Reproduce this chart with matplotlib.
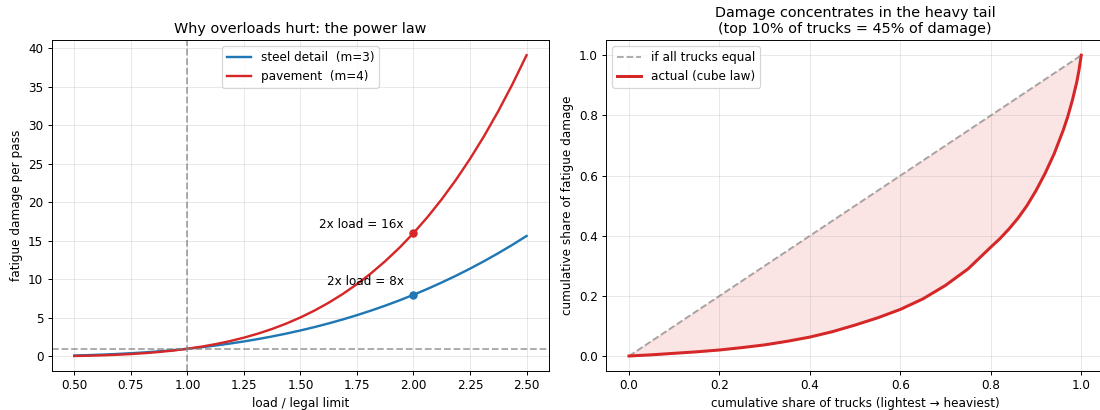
import numpy as np
import matplotlib
matplotlib.use("Agg")
from matplotlib import pyplot as plt

# load ratio vs damage per pass
load_ratio = [0.5, 0.5625, 0.625, 0.6875, 0.75, 0.8125, 0.875, 0.9375, 1.0,
              1.0625, 1.125, 1.1875, 1.25, 1.3125, 1.375, 1.4375, 1.5,
              1.5625, 1.625, 1.6875, 1.75, 1.8125, 1.875, 1.9375, 2.0,
              2.0625, 2.125, 2.1875, 2.25, 2.3125, 2.375, 2.4375, 2.5]
steel_damage = [0.125, 0.178, 0.244, 0.325, 0.422, 0.536, 0.670, 0.824, 1.0,
                1.199, 1.424, 1.675, 1.953, 2.261, 2.600, 2.970, 3.375,
                3.815, 4.291, 4.805, 5.359, 5.954, 6.592, 7.273, 8.0,
                8.774, 9.596, 10.468, 11.391, 12.366, 13.396, 14.482, 15.625]
pavement_damage = [0.0625, 0.100, 0.153, 0.223, 0.316, 0.436, 0.586, 0.772, 1.0,
                   1.274, 1.602, 1.989, 2.441, 2.967, 3.574, 4.270, 5.063,
                   5.960, 6.973, 8.109, 9.379, 10.792, 12.360, 14.091, 16.0,
                   18.096, 20.392, 22.899, 25.629, 28.596, 31.815, 35.300, 39.063]
marked_load = 2.0
marked_steel = 8.0
marked_pavement = 16.0

# cumulative share curve (right panel)
truck_share = [0, 0.05, 0.1, 0.15, 0.2, 0.25, 0.3, 0.35, 0.4, 0.45, 0.5, 0.55,
               0.6, 0.65, 0.7, 0.75, 0.8, 0.82, 0.84, 0.86, 0.88, 0.9, 0.92,
               0.94, 0.96, 0.97, 0.98, 0.99, 0.995, 1.0]
damage_share = [0, 0.004, 0.009, 0.014, 0.02, 0.028, 0.037, 0.049, 0.063, 0.081,
                0.103, 0.127, 0.155, 0.19, 0.235, 0.29, 0.362, 0.39, 0.422, 0.458,
                0.5, 0.55, 0.607, 0.672, 0.75, 0.795, 0.848, 0.91, 0.95, 1.0]
equal_share = [0.0, 1.0]

# reference looks rendered larger and scaled down, so use a lower dpi
dpi = 86.6
fig, (ax1, ax2) = plt.subplots(1, 2, figsize=(1100 / dpi, 410 / dpi), dpi=dpi)
fig.subplots_adjust(left=0.047, right=1.0035, bottom=0.095, top=0.902, wspace=0.115)

# left: power law
ax1.plot(load_ratio, steel_damage, color="tab:blue", lw=2, label="steel detail  (m=3)")
ax1.plot(load_ratio, pavement_damage, color="tab:red", lw=2, label="pavement  (m=4)")
ax1.axhline(1, color="gray", ls="--", alpha=0.7)
ax1.axvline(1, color="gray", ls="--", alpha=0.7)
ax1.plot([marked_load], [marked_pavement], "o", color="tab:red")
ax1.plot([marked_load], [marked_steel], "o", color="tab:blue")
ax1.annotate("2x load = 16x", (marked_load, marked_pavement), xytext=(-8, 2),
             textcoords="offset points", ha="right", va="bottom")
ax1.annotate("2x load = 8x", (marked_load, marked_steel), xytext=(-8, 6),
             textcoords="offset points", ha="right", va="bottom")
ax1.set_xlabel("load / legal limit")
ax1.set_ylabel("fatigue damage per pass")
ax1.set_title("Why overloads hurt: the power law")
ax1.legend(loc="upper center")
ax1.grid(alpha=0.3)

# right: where the damage goes
ax2.plot(equal_share, equal_share, ls="--", color="gray", alpha=0.7, label="if all trucks equal")
ax2.plot(truck_share, damage_share, color="tab:red", lw=2.5, label="actual (cube law)")
ax2.fill_between(truck_share, damage_share, truck_share, color="tab:red", alpha=0.12)
ax2.set_xlabel("cumulative share of trucks (lightest \u2192 heaviest)")
ax2.set_ylabel("cumulative share of fatigue damage")
ax2.set_title("Damage concentrates in the heavy tail\n(top 10% of trucks = 45% of damage)")
ax2.legend(loc="upper left")
ax2.grid(alpha=0.3)

fig.savefig("out.png")
